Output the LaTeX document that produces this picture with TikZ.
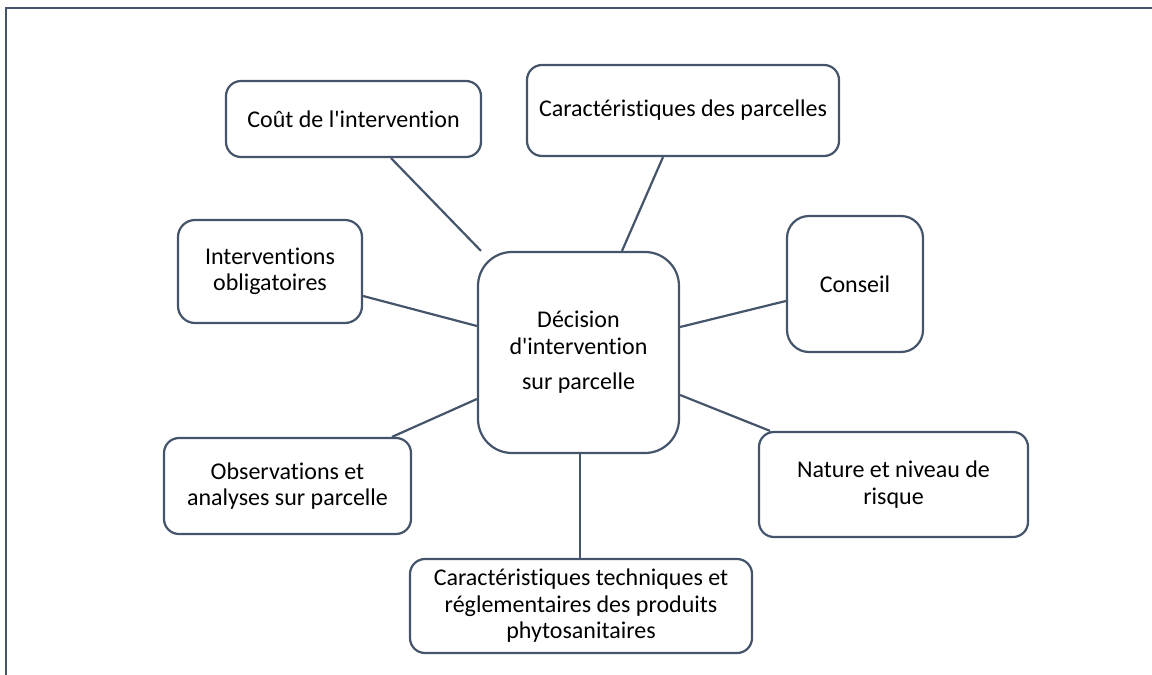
\documentclass[tikz,border=0pt]{standalone}
\usepackage{fontspec}
\setmainfont{Carlito}[Ligatures={TeX,NoCommon}]
\usetikzlibrary{calc}
\definecolor{slate}{RGB}{68,84,106}
\tikzset{
  box/.style={draw=slate, line width=2.2pt, rounded corners=#1, fill=white, align=center,
    inner sep=0pt, text=black, font=\fontsize{24}{26.5}\selectfont},
  box/.default=15pt,
  link/.style={draw=slate, line width=2.2pt}
}
\begin{document}
\begin{tikzpicture}[x=1pt,y=-1pt]
\path[use as bounding box] (0,0) rectangle (1152,675);
\draw[slate, line width=2pt] (6,675) -- (6,7.5) -- (1152,7.5);

\node[box, minimum width=255pt, minimum height=76pt] (cout) at (353.5,119) {Coût de l\textquotesingle intervention};
\node[box, minimum width=312pt, minimum height=91pt] (parc) at (683,110.5) {Caractéristiques des parcelles};
\node[box=17pt, minimum width=184pt, minimum height=103pt] (interv) at (270,271.5) {Interventions\\obligatoires};
\node[box=22pt, minimum width=136pt, minimum height=136pt] (cons) at (855,284) {Conseil};
\node[box=34pt, minimum width=201pt, minimum height=201pt] (dec) at (578.5,352.5) {Décision\\d\textquotesingle intervention\\[9pt]sur parcelle};
\node[box, minimum width=247pt, minimum height=96pt] (obs) at (287.5,486) {Observations et\\analyses sur parcelle};
\node[box, minimum width=269pt, minimum height=105pt] (nat) at (893.5,484.5) {Nature et niveau de\\risque};
\node[box, minimum width=342pt, minimum height=94pt] (tech) at (581,606) {Caractéristiques techniques et\\réglementaires des produits\\phytosanitaires};

\draw[link] ([xshift=37.5pt]cout.south) -- ([xshift=-97.5pt]dec.north);
\draw[link] ([xshift=-20pt]parc.south) -- ([xshift=43.5pt]dec.north);
\draw[link] ([yshift=-24.5pt]interv.east) -- ([yshift=26.5pt]dec.west);
\draw[link] ([yshift=-17pt]cons.west) -- ([yshift=25.5pt]dec.east);
\draw[link] ([xshift=104.5pt]obs.north) -- ([yshift=-46.5pt]dec.west);
\draw[link] ([xshift=-123.5pt]nat.north) -- ([yshift=-42.5pt]dec.east);
\draw[link] ([xshift=1.5pt]dec.south) -- ([xshift=1.5pt]dec.south |- tech.north);
\end{tikzpicture}
\end{document}
